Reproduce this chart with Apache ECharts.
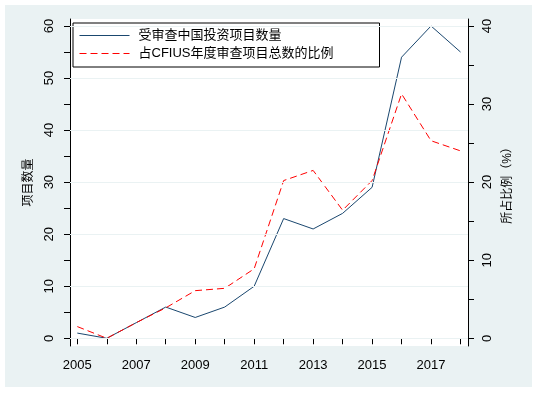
<!DOCTYPE html>
<html>
<head>
<meta charset="utf-8">
<script src="https://cdn.jsdelivr.net/npm/echarts@6/dist/echarts.min.js"></script>
<style>
html,body{margin:0;padding:0;background:#fff;}
#chart{width:537px;height:393px;}
</style>
</head>
<body>
<div id="chart"></div>
<script>
// ---- data ----
const years = [2005, 2006, 2007, 2008, 2009, 2010, 2011, 2012, 2013, 2014, 2015, 2016, 2017, 2018];
const counts = [1, 0, 3, 6, 4, 6, 10, 23, 21, 24, 29, 54, 60, 55];
const shares = [1.5, 0, 2.0, 3.9, 6.1, 6.4, 8.9, 20.2, 21.5, 16.4, 20.2, 31.3, 25.3, 24.0];
const xLabelYears = [2005, 2007, 2009, 2011, 2013, 2015, 2017];
const leftTicks = [0, 5, 10, 15, 20, 25, 30, 35, 40, 45, 50, 55, 60];
const leftLabels = [0, 10, 20, 30, 40, 50, 60];
const rightTicks = [0, 5, 10, 15, 20, 25, 30, 35, 40];
const rightLabels = [0, 10, 20, 30, 40];
const gridValues = [0, 10, 20, 30, 40, 50, 60];
const seriesNames = ['受审查中国投资项目数量', '占CFIUS年度审查项目总数的比例'];
const axisNames = ['项目数量', '所占比例（%）'];

const FONT = '"Liberation Sans", Arial, "Noto Sans CJK SC", sans-serif';
const BG = '#eaf2f3';
const BLUE = '#1a476f';
const RED = '#ff0000';

const chart = echarts.init(document.getElementById('chart'), null, {renderer: 'canvas'});
const option = {
  animation: false,
  backgroundColor: '#fff',
  graphic: [{
    type: 'rect', z: -10,
    shape: {x: 5, y: 5, width: 527, height: 382},
    style: {fill: BG}
  }],
  grid: {
    left: 70, right: 69, top: 19, bottom: 47,
    show: true, backgroundColor: '#fff', borderWidth: 0
  },
  legend: {
    left: 73, top: 23,
    orient: 'vertical',
    data: [
      {name: seriesNames[0], lineStyle: {width: 1, color: BLUE, type: 'solid'}},
      {name: seriesNames[1], lineStyle: {width: 1, color: RED, type: [7, 4]}}
    ],
    itemWidth: 50, itemHeight: 14, itemGap: 5,
    itemStyle: {color: 'rgba(0,0,0,0)', borderWidth: 0, opacity: 0},
    padding: [6, 46, 7, 6],
    backgroundColor: '#fff',
    borderColor: '#000', borderWidth: 1, borderRadius: 0,
    textStyle: {fontSize: 13, color: '#000', fontFamily: FONT, padding: [0, 0, 0, 4]}
  },
  xAxis: {
    type: 'value',
    min: 2004.752, max: 2018.254,
    axisLine: {show: true, lineStyle: {color: '#000', width: 1}},
    axisTick: {show: true, customValues: years, length: 6, lineStyle: {color: '#000'}},
    axisLabel: {
      customValues: xLabelYears, margin: 13,
      formatter: v => String(v),
      fontSize: 13, color: '#000', fontFamily: FONT
    },
    splitLine: {show: false}
  },
  yAxis: [{
    type: 'value', position: 'left',
    min: -1.48, max: 61.34,
    name: axisNames[0], nameLocation: 'middle', nameGap: 35, nameRotate: 90,
    nameTextStyle: {fontSize: 12, color: '#000', fontFamily: FONT},
    axisLine: {show: true, lineStyle: {color: '#000', width: 1}},
    axisTick: {show: true, customValues: leftTicks, length: 6, lineStyle: {color: '#000'}},
    axisLabel: {customValues: leftLabels, rotate: 90, margin: 14,
      fontSize: 13, color: '#000', fontFamily: FONT},
    splitLine: {show: false}
  }, {
    type: 'value', position: 'right',
    min: -0.987, max: 40.89,
    name: axisNames[1], nameLocation: 'middle', nameGap: 27, nameRotate: 90,
    nameTextStyle: {fontSize: 12, color: '#000', fontFamily: FONT},
    axisLine: {show: true, lineStyle: {color: '#000', width: 1}},
    axisTick: {show: true, customValues: rightTicks, length: 6, lineStyle: {color: '#000'}},
    axisLabel: {customValues: rightLabels, rotate: 90, margin: 13,
      fontSize: 13, color: '#000', fontFamily: FONT},
    splitLine: {show: false}
  }],
  series: [{
    name: 'gridlines', type: 'line', data: [], z: 1, silent: true,
    xAxisIndex: 0, yAxisIndex: 0,
    markLine: {
      silent: true, symbol: ['none', 'none'], label: {show: false},
      lineStyle: {color: BG, type: 'solid', width: 1},
      data: gridValues.map(v => ({yAxis: v}))
    }
  }, {
    name: seriesNames[0], type: 'line', yAxisIndex: 0, z: 3,
    data: years.map((y, i) => [y, counts[i]]),
    symbol: 'none', showSymbol: false,
    lineStyle: {color: BLUE, width: 1},
    itemStyle: {color: BLUE}
  }, {
    name: seriesNames[1], type: 'line', yAxisIndex: 1, z: 4,
    data: years.map((y, i) => [y, shares[i]]),
    symbol: 'none', showSymbol: false,
    lineStyle: {color: RED, width: 1, type: [7, 4]},
    itemStyle: {color: RED}
  }]
};
chart.setOption(option);
</script>
</body>
</html>
